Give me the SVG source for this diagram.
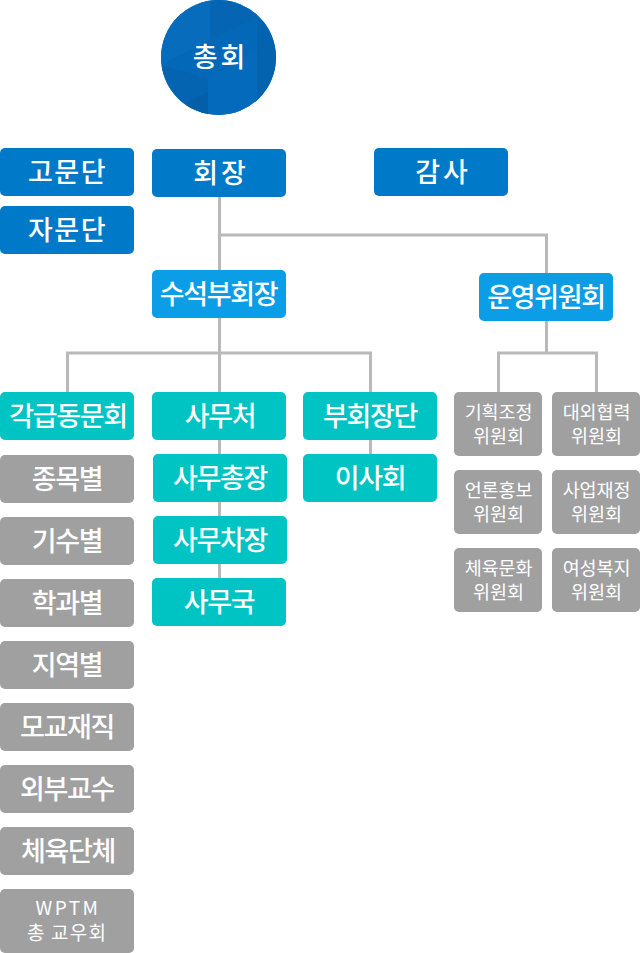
<svg xmlns="http://www.w3.org/2000/svg" width="640" height="953" viewBox="0 0 640 953">
<style>
text{font-family:"Noto Sans CJK KR","Noto Sans",sans-serif;fill:#fff;text-anchor:middle;font-weight:500}
.l{font-size:27px;letter-spacing:-1.300px}
.x{font-size:27px;letter-spacing:1.500px}
.h{font-size:27px;letter-spacing:3px}
.s{font-size:18.500px;letter-spacing:-.1px;font-weight:400}
.w{font-size:19px;letter-spacing:2.500px;font-weight:400}
.v{font-size:19px;letter-spacing:1.200px;font-weight:400}
.b1{fill:#0079c8}.b2{fill:#0b9ee6}.t{fill:#00c3c3}.g{fill:#a0a0a0}
.c{fill:none;stroke:#b9b9b9;stroke-width:3}
</style>
<defs><clipPath id="cc"><circle cx="218.500" cy="57.500" r="57.500"/></clipPath></defs>
<g id="connectors">
<path class="c" d="M219.500 197V270M219.500 235H546.500V273M546.500 321V353M498.500 392V353H596.500V392M219.500 318V392M67.500 392V353H370.500V392M219.500 440V578M370.500 440V454"/>
</g>
<g id="n-chonghoe">
<circle cx="218.500" cy="57.500" r="57.500" fill="#0468b8"/>
<g clip-path="url(#cc)">
<path d="M161 65L210 40V0H161Z" fill="#066cbb"/>
<path d="M210 40L257 17V0H210Z" fill="#0565b2"/>
<path d="M208 78L257 50V115H208Z" fill="#046abc"/>
<path d="M161 65L208 78V115H190L161 100Z" fill="#0564b1"/>
<path d="M186 103L208 92V115H186Z" fill="#045ea8"/>
<path d="M257 17L276 30V115H257Z" fill="#0463af"/>
</g>
<text x="220.500" y="67" class="h">총회</text>
</g>
<g id="n-gomundan"><rect class="b1" x="0" y="148" width="134" height="48" rx="5"/><text x="67.500" y="182" class="x">고문단</text></g>
<g id="n-jamundan"><rect class="b1" x="0" y="206" width="134" height="48" rx="5"/><text x="67.500" y="240" class="x">자문단</text></g>
<g id="n-hoejang"><rect class="b1" x="152" y="149" width="134" height="48" rx="5"/><text x="221" y="183" class="h">회장</text></g>
<g id="n-gamsa"><rect class="b1" x="374" y="148" width="134" height="48" rx="5"/><text x="443" y="182" class="h">감사</text></g>
<g id="n-susuk"><rect class="b2" x="152" y="270" width="134" height="48" rx="5"/><text x="218.500" y="304" class="l">수석부회장</text></g>
<g id="n-unyeong"><rect class="b2" x="479" y="273" width="134" height="48" rx="5"/><text x="546" y="307" class="l">운영위원회</text></g>
<g id="n-gakgeup"><rect class="t" x="0" y="392" width="134" height="48" rx="5"/><text x="68" y="426" class="l">각급동문회</text></g>
<g id="n-samucheo"><rect class="t" x="152" y="392" width="134" height="48" rx="5"/><text x="220" y="426" class="l">사무처</text></g>
<g id="n-buhoejangdan"><rect class="t" x="303" y="392" width="134" height="48" rx="5"/><text x="370" y="426" class="l">부회장단</text></g>
<g id="n-samuchongjang"><rect class="t" x="153" y="454" width="134" height="48" rx="5"/><text x="220" y="488" class="l">사무총장</text></g>
<g id="n-isahoe"><rect class="t" x="303" y="454" width="134" height="48" rx="5"/><text x="370" y="488" class="l">이사회</text></g>
<g id="n-samuchajang"><rect class="t" x="153" y="516" width="134" height="48" rx="5"/><text x="220" y="550" class="l">사무차장</text></g>
<g id="n-samuguk"><rect class="t" x="152" y="578" width="134" height="48" rx="5"/><text x="219" y="612" class="l">사무국</text></g>
<g id="n-jongmok"><rect class="g" x="0" y="455" width="134" height="48" rx="5"/><text x="67" y="489" class="l">종목별</text></g>
<g id="n-gisu"><rect class="g" x="0" y="517" width="134" height="48" rx="5"/><text x="67" y="551" class="l">기수별</text></g>
<g id="n-hakgwa"><rect class="g" x="0" y="579" width="134" height="48" rx="5"/><text x="67" y="613" class="l">학과별</text></g>
<g id="n-jiyeok"><rect class="g" x="0" y="641" width="134" height="48" rx="5"/><text x="67" y="675" class="l">지역별</text></g>
<g id="n-mogyo"><rect class="g" x="0" y="703" width="134" height="48" rx="5"/><text x="67" y="737" class="l">모교재직</text></g>
<g id="n-oebu"><rect class="g" x="0" y="765" width="134" height="48" rx="5"/><text x="67" y="799" class="l">외부교수</text></g>
<g id="n-cheyuk"><rect class="g" x="0" y="827" width="134" height="48" rx="5"/><text x="68" y="861" class="l">체육단체</text></g>
<g id="n-wptm"><rect class="g" x="0" y="889" width="134" height="64" rx="5"/><text x="68" y="915" class="w">WPTM</text><text x="67" y="940" class="v">총 교우회</text></g>
<g id="n-c1"><rect class="g" x="454" y="392" width="88" height="64" rx="5"/><text x="498.500" y="418.500" class="s">기획조정</text><text x="498.500" y="443" class="s">위원회</text></g>
<g id="n-c2"><rect class="g" x="552" y="392" width="88" height="64" rx="5"/><text x="596.500" y="418.500" class="s">대외협력</text><text x="596.500" y="443" class="s">위원회</text></g>
<g id="n-c3"><rect class="g" x="454" y="470" width="88" height="64" rx="5"/><text x="498.500" y="496.500" class="s">언론홍보</text><text x="498.500" y="521" class="s">위원회</text></g>
<g id="n-c4"><rect class="g" x="552" y="470" width="88" height="64" rx="5"/><text x="596.500" y="496.500" class="s">사업재정</text><text x="596.500" y="521" class="s">위원회</text></g>
<g id="n-c5"><rect class="g" x="454" y="548" width="88" height="64" rx="5"/><text x="498.500" y="574.500" class="s">체육문화</text><text x="498.500" y="599" class="s">위원회</text></g>
<g id="n-c6"><rect class="g" x="552" y="548" width="88" height="64" rx="5"/><text x="596.500" y="574.500" class="s">여성복지</text><text x="596.500" y="599" class="s">위원회</text></g>
</svg>
